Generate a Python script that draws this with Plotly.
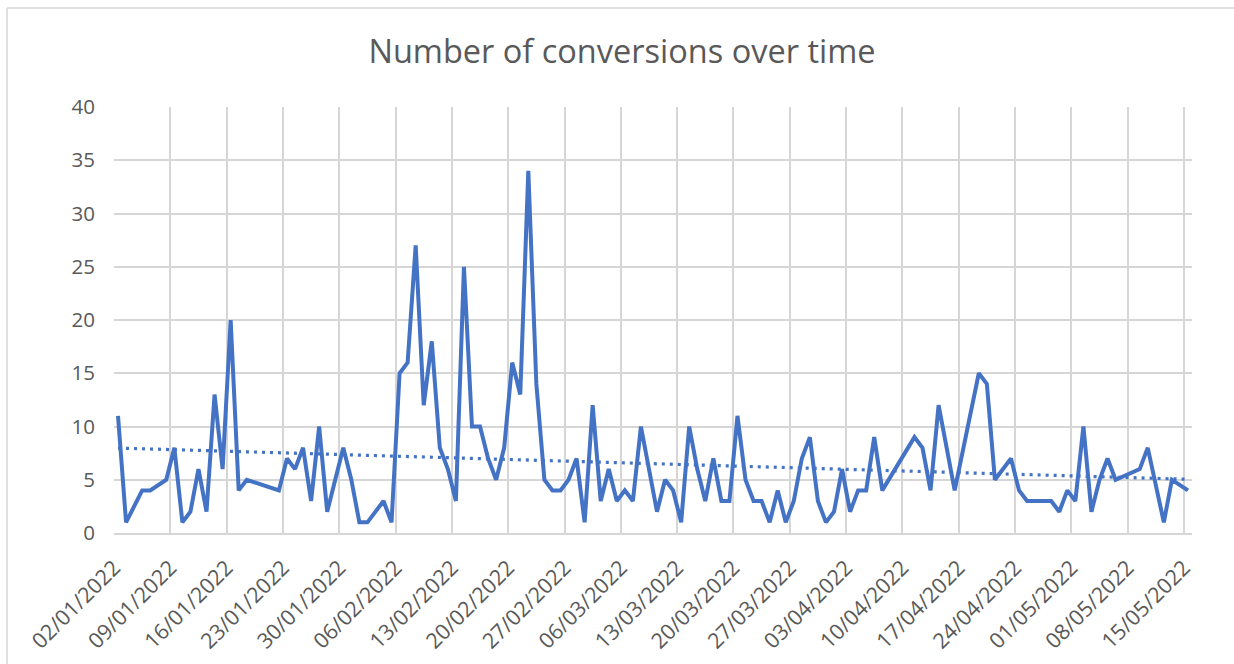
import numpy as np
import pandas as pd
import plotly.graph_objects as go

# Daily conversion counts (days without a record are simply absent)
dates = [
    "2022-01-02", "2022-01-03", "2022-01-05", "2022-01-06", "2022-01-08", "2022-01-09",
    "2022-01-10", "2022-01-11", "2022-01-12", "2022-01-13", "2022-01-14", "2022-01-15",
    "2022-01-16", "2022-01-17", "2022-01-18", "2022-01-22", "2022-01-23", "2022-01-24",
    "2022-01-25", "2022-01-26", "2022-01-27", "2022-01-28", "2022-01-30", "2022-01-31",
    "2022-02-01", "2022-02-02", "2022-02-04", "2022-02-05", "2022-02-06", "2022-02-07",
    "2022-02-08", "2022-02-09", "2022-02-10", "2022-02-11", "2022-02-12", "2022-02-13",
    "2022-02-14", "2022-02-15", "2022-02-16", "2022-02-17", "2022-02-18", "2022-02-19",
    "2022-02-20", "2022-02-21", "2022-02-22", "2022-02-23", "2022-02-24", "2022-02-25",
    "2022-02-26", "2022-02-27", "2022-02-28", "2022-03-01", "2022-03-02", "2022-03-03",
    "2022-03-04", "2022-03-05", "2022-03-06", "2022-03-07", "2022-03-08", "2022-03-10",
    "2022-03-11", "2022-03-12", "2022-03-13", "2022-03-14", "2022-03-15", "2022-03-16",
    "2022-03-17", "2022-03-18", "2022-03-19", "2022-03-20", "2022-03-21", "2022-03-22",
    "2022-03-23", "2022-03-24", "2022-03-25", "2022-03-26", "2022-03-27", "2022-03-28",
    "2022-03-29", "2022-03-30", "2022-03-31", "2022-04-01", "2022-04-02", "2022-04-03",
    "2022-04-04", "2022-04-05", "2022-04-06", "2022-04-07", "2022-04-11", "2022-04-12",
    "2022-04-13", "2022-04-14", "2022-04-16", "2022-04-19", "2022-04-20", "2022-04-21",
    "2022-04-23", "2022-04-24", "2022-04-25", "2022-04-28", "2022-04-29", "2022-04-30",
    "2022-05-01", "2022-05-02", "2022-05-03", "2022-05-04", "2022-05-05", "2022-05-06",
    "2022-05-09", "2022-05-10", "2022-05-12", "2022-05-13", "2022-05-15",
]
conversions = [
    11, 1, 4, 4, 5, 8,
    1, 2, 6, 2, 13, 6,
    20, 4, 5, 4, 7, 6,
    8, 3, 10, 2, 8, 5,
    1, 1, 3, 1, 15, 16,
    27, 12, 18, 8, 6, 3,
    25, 10, 10, 7, 5, 8,
    16, 13, 34, 14, 5, 4,
    4, 5, 7, 1, 12, 3,
    6, 3, 4, 3, 10, 2,
    5, 4, 1, 10, 6, 3,
    7, 3, 3, 11, 5, 3,
    3, 1, 4, 1, 3, 7,
    9, 3, 1, 2, 6, 2,
    4, 4, 9, 4, 9, 8,
    4, 12, 4, 15, 14, 5,
    7, 4, 3, 3, 2, 4,
    3, 10, 2, 5, 7, 5,
    6, 8, 1, 5, 4,
]

# Weekly axis labels
tick_dates = [
    "2022-01-02", "2022-01-09", "2022-01-16", "2022-01-23", "2022-01-30",
    "2022-02-06", "2022-02-13", "2022-02-20", "2022-02-27", "2022-03-06",
    "2022-03-13", "2022-03-20", "2022-03-27", "2022-04-03", "2022-04-10",
    "2022-04-17", "2022-04-24", "2022-05-01", "2022-05-08", "2022-05-15",
]
tick_labels = [
    "02/01/2022", "09/01/2022", "16/01/2022", "23/01/2022", "30/01/2022",
    "06/02/2022", "13/02/2022", "20/02/2022", "27/02/2022", "06/03/2022",
    "13/03/2022", "20/03/2022", "27/03/2022", "03/04/2022", "10/04/2022",
    "17/04/2022", "24/04/2022", "01/05/2022", "08/05/2022", "15/05/2022",
]

BLUE = "#4472C4"
GREY_TEXT = "#595959"
GRID = "#D6D6D6"
FONT = "Open Sans"

x = pd.to_datetime(dates)
half_day = pd.Timedelta(hours=12)

# Linear trend fitted over the day index
day_num = (x - x[0]).days.values.astype(float)
slope, intercept = np.polyfit(day_num, np.array(conversions, dtype=float), 1)
trend_x = [x[0], x[-1]]
trend_y = [intercept, intercept + slope * day_num[-1]]

fig = go.Figure()
fig.add_trace(go.Scatter(
    x=x, y=conversions, mode="lines",
    line=dict(color=BLUE, width=4),
    showlegend=False, hoverinfo="x+y",
))
fig.add_trace(go.Scatter(
    x=trend_x, y=trend_y, mode="lines",
    line=dict(color=BLUE, width=3.2, dash="3px,5px"),
    showlegend=False, hoverinfo="skip",
))

# Gridlines sit on day boundaries, points in the middle of each day
tickvals = [pd.Timestamp(d) - half_day for d in tick_dates]

# Chart-area frame: only its left and top edges fall inside the canvas
frame_left = (7 - 114) / 1078
frame_top = (533 - 8) / 426
frame_shapes = [
    dict(type="line", xref="paper", yref="paper",
         x0=frame_left, x1=frame_left, y0=-2, y1=frame_top,
         line=dict(color=GRID, width=1.5), layer="below"),
    dict(type="line", xref="paper", yref="paper",
         x0=frame_left, x1=2, y0=frame_top, y1=frame_top,
         line=dict(color=GRID, width=1.5), layer="below"),
]

fig.update_layout(
    width=1234, height=664,
    margin=dict(l=114, r=42, t=107, b=131, autoexpand=False),
    paper_bgcolor="white", plot_bgcolor="white",
    font=dict(family=FONT, color=GREY_TEXT),
    title=dict(
        text="Number of conversions over time",
        x=622 / 1234, xref="container", xanchor="center",
        y=1 - 52 / 664, yref="container", yanchor="middle",
        font=dict(family=FONT, size=32.5, color=GREY_TEXT),
    ),
    xaxis=dict(
        range=[pd.Timestamp(dates[0]) - half_day, pd.Timestamp(dates[-1]) + half_day],
        tickmode="array", tickvals=tickvals, ticktext=tick_labels,
        tickangle=-45, tickfont=dict(size=21.5, color=GREY_TEXT),
        ticklabelstandoff=12, automargin=False,
        showgrid=True, gridcolor=GRID, gridwidth=1.5,
        showline=True, linecolor=GRID, linewidth=1.5,
        zeroline=False, ticks="",
    ),
    yaxis=dict(
        range=[0, 40], dtick=5, tick0=0,
        tickfont=dict(size=20.5, color=GREY_TEXT),
        showgrid=True, gridcolor=GRID, gridwidth=1.5,
        zeroline=False, showline=False, ticks="",
        ticklabelstandoff=18, automargin=False,
    ),
    shapes=frame_shapes,
)

fig.write_html("out.html")
